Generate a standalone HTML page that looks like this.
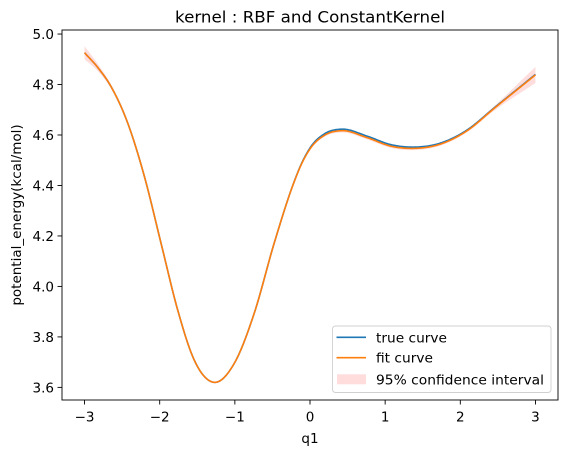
<!DOCTYPE html>
<html><head><meta charset="utf-8"><style>
html,body{margin:0;padding:0;background:#fff;}
svg{display:block;font-family:"DejaVu Sans","Liberation Sans",sans-serif;}
</style></head><body>
<svg id="chart" width="567" height="453">
<rect width="567" height="453" fill="#fff"/>
<g id="plot"></g>
</svg>
<script>
const xs =   [-3,-2.82,-2.646,-2.424,-2.203,-1.982,-1.76,-1.54,-1.274,-1.008,-0.743,-0.477,-0.211,-0.122,0.01,0.2,0.42,0.764,1.073,1.383,1.737,2.091,2.445,3.0];
const trueY =[4.926,4.866,4.791,4.646,4.435,4.171,3.906,3.708,3.620,3.695,3.893,4.171,4.415,4.481,4.553,4.606,4.623,4.595,4.562,4.552,4.568,4.620,4.706,4.840];
const fitY = [4.926,4.866,4.791,4.646,4.435,4.171,3.906,3.708,3.620,3.695,3.893,4.171,4.414,4.479,4.549,4.600,4.617,4.589,4.556,4.547,4.564,4.617,4.704,4.838];
const ciHalf=[0.026,0.014,0.008,0.005,0.004,0.004,0.004,0.004,0.004,0.004,0.004,0.004,0.004,0.005,0.005,0.006,0.007,0.007,0.007,0.007,0.006,0.006,0.009,0.032];
const xTicks=[-3,-2,-1,0,1,2,3];
const yTicks=[3.6,3.8,4.0,4.2,4.4,4.6,4.8,5.0];

const L=62,R=558,T=30,B=400;
const xMin=-3.3,xMax=3.3,yMin=3.55,yMax=5.016;
const sx=v=>L+(v-xMin)/(xMax-xMin)*(R-L);
const sy=v=>B-(v-yMin)/(yMax-yMin)*(B-T);
const NS='http://www.w3.org/2000/svg';
const g=document.getElementById('plot');
function mk(tag,attrs,txt){const e=document.createElementNS(NS,tag);for(const k in attrs)e.setAttribute(k,attrs[k]);if(txt!==undefined)e.textContent=txt;g.appendChild(e);return e;}
function sample(X,Y){const n=X.length,m=[];
 for(let i=0;i<n;i++){
  if(i===0)m.push((Y[1]-Y[0])/(X[1]-X[0]));
  else if(i===n-1)m.push((Y[n-1]-Y[n-2])/(X[n-1]-X[n-2]));
  else{const d0=(Y[i]-Y[i-1])/(X[i]-X[i-1]),d1=(Y[i+1]-Y[i])/(X[i+1]-X[i]);
   const h0=X[i]-X[i-1],h1=X[i+1]-X[i];m.push((d0*h1+d1*h0)/(h0+h1));}}
 const pts=[];
 for(let i=0;i<n-1;i++){const h=X[i+1]-X[i];const N=20;
  for(let k=(i===0?0:1);k<=N;k++){const t=k/N,t2=t*t,t3=t2*t;
   const y=(2*t3-3*t2+1)*Y[i]+(t3-2*t2+t)*h*m[i]+(-2*t3+3*t2)*Y[i+1]+(t3-t2)*h*m[i+1];
   pts.push([X[i]+t*h,y]);}}
 return pts;}
const toD=p=>p.map((q,i)=>(i?'L':'M')+sx(q[0]).toFixed(2)+','+sy(q[1]).toFixed(2)).join(' ');

const upS=sample(xs,fitY.map((v,i)=>v+ciHalf[i]));
const loS=sample(xs,fitY.map((v,i)=>v-ciHalf[i])).reverse();
let band=mk('path',{d:toD(upS)+' '+toD(loS).replace(/^M/,'L')+' Z',fill:'#ffb3b3','fill-opacity':0.45,stroke:'none'});


let tl=mk('path',{d:toD(sample(xs,trueY)),fill:'none',stroke:'#1f77b4','stroke-width':1.6,'stroke-linejoin':'round'});


let fl=mk('path',{d:toD(sample(xs,fitY)),fill:'none',stroke:'#ff7f0e','stroke-width':1.6,'stroke-linejoin':'round'});



let fr=mk('rect',{x:L,y:T,width:R-L,height:B-T,fill:'none',stroke:'#000','stroke-width':0.9});


xTicks.forEach(t=>{const x=sx(t);
 let tk=mk('line',{x1:x,x2:x,y1:B,y2:B+4.5,stroke:'#000','stroke-width':0.9});
 
 
 let lb=mk('text',{x:x,y:B+21.5,'text-anchor':'middle','font-size':13.5,fill:'#000'},(t<0?'\u2212'+(-t):String(t)));
 
 });
yTicks.forEach(t=>{const y=sy(t);
 let tk=mk('line',{x1:L-4.5,x2:L,y1:y,y2:y,stroke:'#000','stroke-width':0.9});
 
 
 let lb=mk('text',{x:L-8,y:y+5,'text-anchor':'end','font-size':13.5,fill:'#000'},t.toFixed(1));
 
 });
let ti=mk('text',{x:310,y:22.5,'text-anchor':'middle','font-size':16,fill:'#000',textLength:270,lengthAdjust:'spacingAndGlyphs'},'kernel : RBF and ConstantKernel');


let xl=mk('text',{x:310,y:443,'text-anchor':'middle','font-size':13.5,fill:'#000'},'q1');


let yl=mk('text',{x:0,y:0,'text-anchor':'middle','font-size':13.5,fill:'#000',transform:'translate(21,'+((T+B)/2)+') rotate(-90)'},'potential_energy(kcal/mol)');



let lg=mk('rect',{x:332.5,y:326,width:218.5,height:66.5,rx:3,fill:'#fff','fill-opacity':0.85,stroke:'#d0d0d0','stroke-width':0.9});


const leg=[['true curve','#1f77b4','line'],['fit curve','#ff7f0e','line'],['95% confidence interval','#ffb3b3','patch']];
const legW=[71,57,168];
leg.forEach((e,i)=>{const y=[337.3,357.7,379.3][i];
 let h;
 if(e[2]==='line'){h=mk('line',{x1:336.5,x2:366,y1:y,y2:y,stroke:e[1],'stroke-width':1.6});}
 else{h=mk('rect',{x:337,y:y-5,width:29,height:10,fill:e[1],'fill-opacity':0.45});}
 
 
 let t=mk('text',{x:376,y:y+5,'font-size':13.5,fill:'#000',textLength:legW[i],lengthAdjust:'spacingAndGlyphs'},e[0]);
 
 });
</script>
</body></html>
